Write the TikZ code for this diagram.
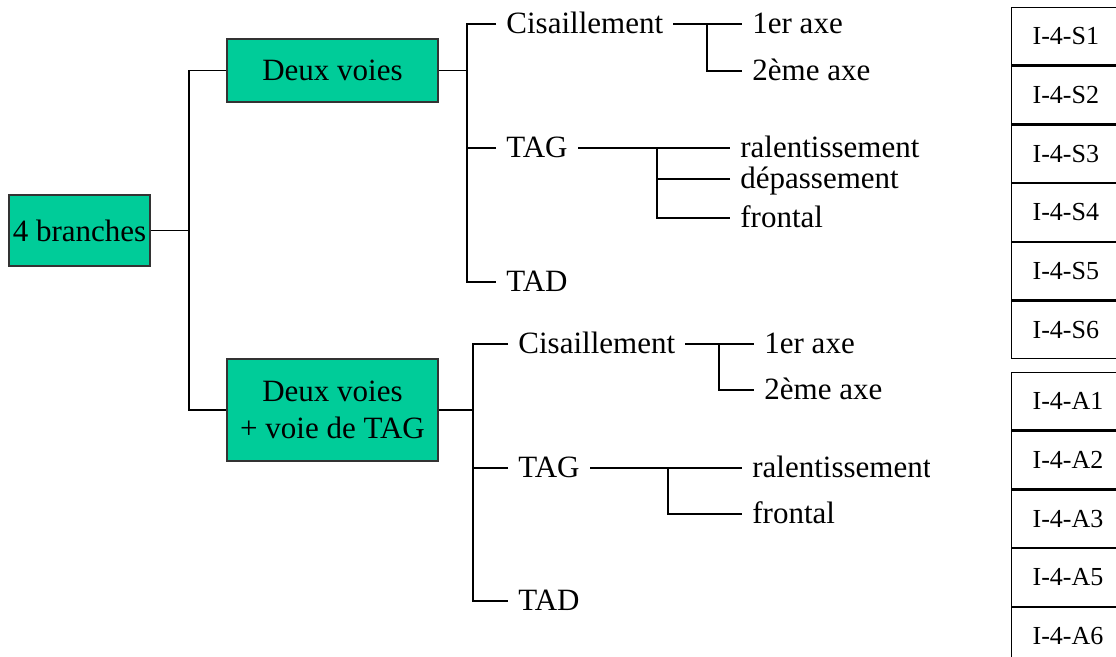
\documentclass[tikz,border=0pt]{standalone}
\usepackage{fontspec}
\setmainfont{Liberation Serif}
\usetikzlibrary{positioning}
\definecolor{boxgreen}{HTML}{00CC99}

\begin{document}
\begin{tikzpicture}[x=0.5pt, y=-0.5pt,
    node distance=0pt,
    box/.style={draw=black!80, line width=0.6pt, fill=boxgreen, align=center,
                inner sep=0pt, font=\fontsize{15.5}{18.5}\selectfont},
    leaf/.style={anchor=west, inner xsep=5pt, inner ysep=0pt, text height=10pt,
                 text depth=0pt, font=\fontsize{15.5}{18}\selectfont},
    cell/.style={draw, line width=0.6pt, minimum height=28.75pt, text width=46pt,
                 inner xsep=10.5pt, align=left, font=\fontsize{13}{15}\selectfont},
    link/.style={line width=0.55pt}]
    \clip (0,0) rectangle (1116,657);
    % main branches
    \node[box, minimum width=70.5pt, minimum height=35.5pt] (root) at (79.5,230.5) {4 branches};
    \node[box, minimum width=105.5pt, minimum height=31.5pt] (two) at (332.5,70.5) {Deux voies};
    \node[box, minimum width=105.5pt, minimum height=51pt] (twotag) at (332.5,410) {Deux voies\\+ voie de TAG};
    \coordinate (j0) at (189,230.5);
    \draw[link] (root.east) -- (j0);
    \draw[link] (two.west) -| (j0) |- (twotag.west);

    % deux voies
    \node[leaf] (cis1) at (496,24) {Cisaillement};
    \node[leaf] (tag1) at (496,148) {TAG};
    \node[leaf] (tad1) at (496,282) {TAD};
    \coordinate (j1) at (467,70.5);
    \draw[link] (two.east) -- (j1);
    \draw[link] (cis1.west) -| (j1) |- (tad1.west);
    \draw[link] (tag1.west) -- (tag1.west -| j1);

    \node[leaf] (axe11) at (742,24) {1er axe};
    \node[leaf] (axe12) at (742,71) {2ème axe};
    \coordinate (k1) at (707,24);
    \draw[link] (cis1.east) -- (axe11.west);
    \draw[link] (k1) |- (axe12.west);

    \node[leaf] (ral1) at (730,148) {ralentissement};
    \node[leaf] (dep1) at (730,179) {dépassement};
    \node[leaf] (fro1) at (730,218) {frontal};
    \coordinate (k2) at (657,148);
    \draw[link] (tag1.east) -- (ral1.west);
    \draw[link] (k2) |- (fro1.west);
    \draw[link] (dep1.west) -- (dep1.west -| k2);

    % deux voies + voie de TAG
    \node[leaf] (cis2) at (508,344) {Cisaillement};
    \node[leaf] (tag2) at (508,468) {TAG};
    \node[leaf] (tad2) at (508,601) {TAD};
    \coordinate (j2) at (473,410);
    \draw[link] (twotag.east) -- (j2);
    \draw[link] (cis2.west) -| (j2) |- (tad2.west);
    \draw[link] (tag2.west) -- (tag2.west -| j2);

    \node[leaf] (axe21) at (754,344) {1er axe};
    \node[leaf] (axe22) at (754,390) {2ème axe};
    \coordinate (k3) at (719,344);
    \draw[link] (cis2.east) -- (axe21.west);
    \draw[link] (k3) |- (axe22.west);

    \begin{scope}
      \clip (0,0) rectangle (929,657);
      \node[leaf] (ral2) at (742,468) {ralentissement};
    \end{scope}
    \node[leaf] (fro2) at (742,514) {frontal};
    \coordinate (k4) at (668,468);
    \draw[link] (tag2.east) -- (ral2.west);
    \draw[link] (k4) |- (fro2.west);

    % codes
    \node[cell, anchor=north west] (s1) at (1011,7) {I-4-S1};
    \node[cell, below=of s1] (s2) {I-4-S2};
    \node[cell, below=of s2] (s3) {I-4-S3};
    \node[cell, below=of s3] (s4) {I-4-S4};
    \node[cell, below=of s4] (s5) {I-4-S5};
    \node[cell, below=of s5] (s6) {I-4-S6};
    \node[cell, anchor=north west] (a1) at (1011,372) {I-4-A1};
    \node[cell, below=of a1] (a2) {I-4-A2};
    \node[cell, below=of a2] (a3) {I-4-A3};
    \node[cell, below=of a3] (a5) {I-4-A5};
    \node[cell, below=of a5] (a6) {I-4-A6};
  \end{tikzpicture}
\end{document}
